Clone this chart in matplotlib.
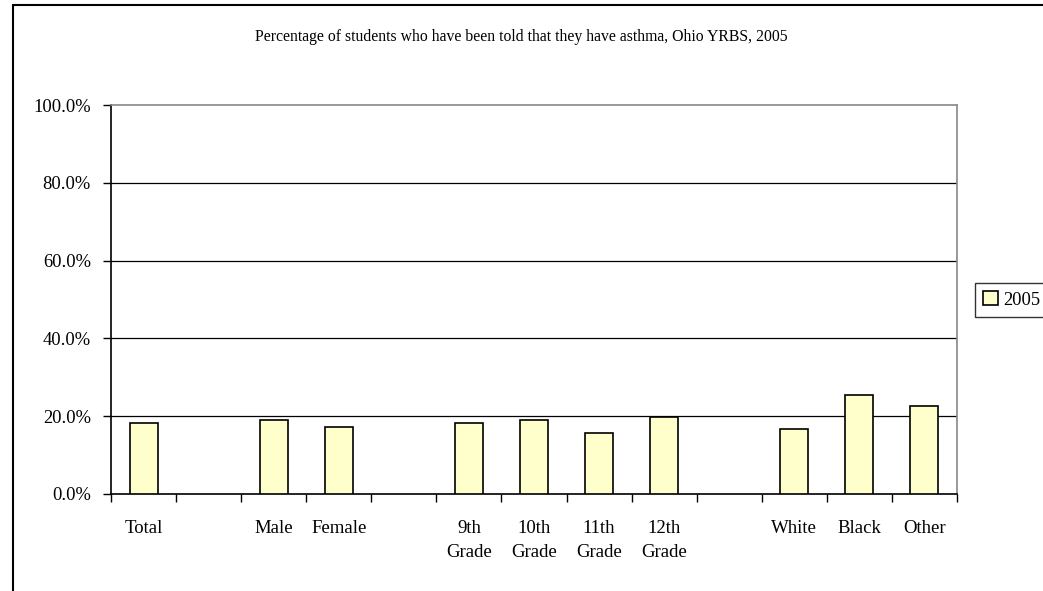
import numpy as np
import matplotlib
matplotlib.use("Agg")
import matplotlib.pyplot as plt
from matplotlib.patches import Rectangle

plt.rcParams.update({"font.family": ["Liberation Serif", "DejaVu Serif"]})

# categories (empty strings are spacer slots between groups)
CATS = ["Total", "", "Male", "Female", "", "9th\nGrade", "10th\nGrade", "11th\nGrade",
        "12th\nGrade", "", "White", "Black", "Other"]
VALS = [18.2, np.nan, 18.9, 17.2, np.nan, 18.2, 18.9, 15.8, 19.9, np.nan, 16.7, 25.4, 22.7]
SERIES = "2005"
YTICKS = [0, 20, 40, 60, 80, 100]

W, H = 1043, 591
fig = plt.figure(figsize=(W / 100, H / 100), dpi=100)
# outer chart border (cropped at right/bottom in the original)
fig.patches.append(Rectangle((13 / W, -0.1), 1.2, 1.1 - 5 / H,
                             transform=fig.transFigure, fill=False,
                             edgecolor="black", lw=1.5))

ax = fig.add_axes([111 / W, 1 - 494 / H, (957 - 111) / W, (494 - 105) / H])
x = np.arange(len(CATS))
ax.bar(x, VALS, width=0.43, color="#FFFFCC", edgecolor="black", lw=1.2,
       label=SERIES, zorder=3)

ax.set_xlim(-0.5, len(CATS) - 0.5)
ax.set_ylim(0, 100)
ax.set_yticks(YTICKS)
ax.set_yticklabels([f"{v:.1f}%" for v in YTICKS], fontsize=13.3)
for v in YTICKS[1:-1]:
    ax.axhline(v, color="black", lw=0.9, zorder=1)

ax.set_xticks(x)
ax.set_xticklabels(CATS, fontsize=13.5, linespacing=1.5)
ax.set_xticks(np.arange(len(CATS) + 1) - 0.5, minor=True)
ax.tick_params(axis="x", which="major", length=0, pad=19)
ax.tick_params(axis="x", which="minor", length=6, width=1, direction="out")
ax.tick_params(axis="y", length=6, width=1, direction="out", pad=8.5)

ax.spines["left"].set_color("black")
ax.spines["bottom"].set_color("black")
ax.spines["top"].set_color("#888888")
ax.spines["right"].set_color("#888888")
for s in ax.spines.values():
    s.set_linewidth(1.2)

fig.text(521 / W, 1 - 37 / H,
         "Percentage of students who have been told that they have asthma, Ohio YRBS, 2005",
         ha="center", va="center", fontsize=11.3)

leg = fig.legend(loc="center left", bbox_to_anchor=(975 / W, 1 - 300 / H),
                 fontsize=13.3, frameon=True, fancybox=False, handlelength=0.8,
                 handleheight=0.8, handletextpad=0.3, borderpad=0.45,
                 borderaxespad=0)
leg.get_frame().set_edgecolor("black")
leg.get_frame().set_linewidth(1.0)

fig.savefig("out.png", dpi=100)
